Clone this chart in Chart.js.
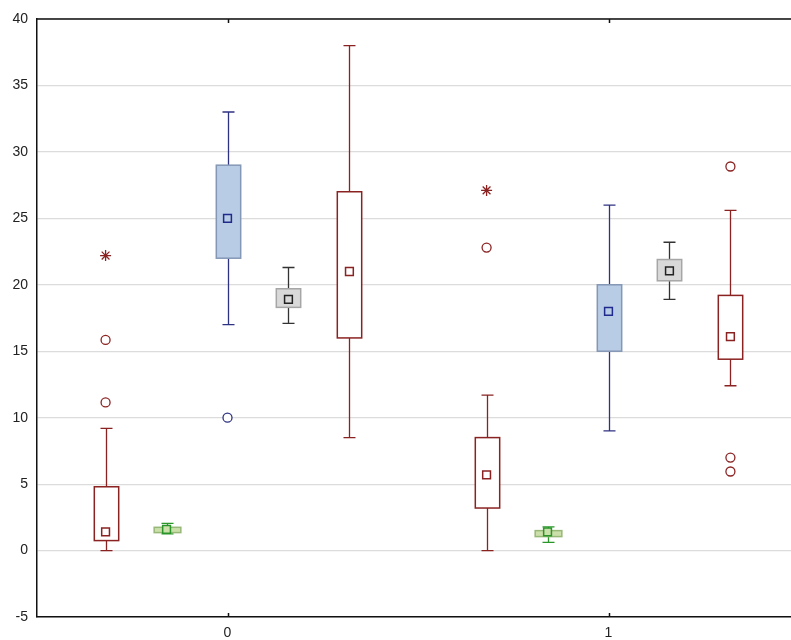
<!DOCTYPE html>
<html>
<head>
<meta charset="utf-8">
<script src="https://cdn.jsdelivr.net/npm/chart.js@4.4.0/dist/chart.umd.min.js"></script>
<style>
  body { margin: 0; background: #fff; overflow: hidden; }
  #wrap { width: 798px; height: 640px; }
</style>
</head>
<body>
<div id="wrap"><canvas id="chart"></canvas></div>
<script>
// x positions of the two groups and the offset of each box in a group
const groups = [0, 1];
const offsets = [-0.32, -0.16, 0, 0.16, 0.32];
const yTicks = [-5, 0, 5, 10, 15, 20, 25, 30, 35, 40];

// box statistics per series, one value per group
const aMin = [0, 0],     aQ1 = [0.75, 3.2],  aMed = [1.4, 5.7],   aQ3 = [4.8, 8.5],  aMax = [9.2, 11.7];
const bMin = [1.25, 0.62], bQ1 = [1.35, 1.05], bMed = [1.6, 1.4], bQ3 = [1.75, 1.5], bMax = [2.05, 1.78];
const cMin = [17, 9],    cQ1 = [22, 15],     cMed = [25, 18],     cQ3 = [29, 20],    cMax = [33, 26];
const dMin = [17.1, 18.9], dQ1 = [18.3, 20.3], dMed = [18.9, 21.05], dQ3 = [19.7, 21.9], dMax = [21.3, 23.2];
const eMin = [8.5, 12.4], eQ1 = [16, 14.4],  eMed = [21, 16.1],   eQ3 = [27, 19.2],  eMax = [38, 25.6];

// outliers (circles) and extremes (asterisks)
const aOut = [[15.85, 11.15], [22.8]];
const aExt = [[22.2], [27.1]];
const cOut = [[10], []];
const eOut = [[], [28.9, 7.0, 5.95]];

const DRED = '#8b2222';

const series = [
  { min: aMin, q1: aQ1, med: aMed, q3: aQ3, max: aMax, fill: '#ffffff', border: DRED, whisk: DRED, mFill: '#ffffff', mLine: DRED, w: 0.064 },
  { min: bMin, q1: bQ1, med: bMed, q3: bQ3, max: bMax, fill: '#cadfa9', border: '#97b877', whisk: '#2a962a', mFill: '#cadfa9', mLine: '#2a962a', w: 0.07 },
  { min: cMin, q1: cQ1, med: cMed, q3: cQ3, max: cMax, fill: '#b8cce5', border: '#8497b5', whisk: '#2e3282', mFill: '#b8cce5', mLine: '#1e2a8c', w: 0.064 },
  { min: dMin, q1: dQ1, med: dMed, q3: dQ3, max: dMax, fill: '#d9d9d9', border: '#a6a6a6', whisk: '#333333', mFill: '#d9d9d9', mLine: '#222222', w: 0.064 },
  { min: eMin, q1: eQ1, med: eMed, q3: eQ3, max: eMax, fill: '#ffffff', border: DRED, whisk: DRED, mFill: '#ffffff', mLine: DRED, w: 0.064 }
];

function pts(s, vals) {
  const out = [];
  groups.forEach((g, i) => vals[i].forEach(v => out.push({ x: g + offsets[s], y: v })));
  return out;
}

const datasets = series.map((s, i) => ({
  data: groups.map((g, j) => ({ x: g + offsets[i], y: s.med[j] })),
  pointStyle: 'rect', pointRadius: 5.5, backgroundColor: s.mFill, borderColor: s.mLine, borderWidth: 1.5
}));
datasets.push({ data: pts(0, aOut), pointStyle: 'circle', pointRadius: 4.5, backgroundColor: '#fff', borderColor: DRED, borderWidth: 1.3 });
datasets.push({ data: pts(2, cOut), pointStyle: 'circle', pointRadius: 4.5, backgroundColor: '#fff', borderColor: '#2e3282', borderWidth: 1.3 });
datasets.push({ data: pts(4, eOut), pointStyle: 'circle', pointRadius: 4.5, backgroundColor: '#fff', borderColor: DRED, borderWidth: 1.3 });
datasets.push({ data: pts(0, aExt), pointStyle: 'star', pointRadius: 5.5, borderColor: DRED, borderWidth: 1.3 });

const boxPlugin = {
  id: 'boxes',
  beforeDatasetsDraw(chart) {
    const ctx = chart.ctx, x = chart.scales.x, y = chart.scales.y;
    ctx.save();
    series.forEach((s, i) => {
      groups.forEach((g, j) => {
        const cx = Math.round(x.getPixelForValue(g + offsets[i])) + 0.5;
        const hw = (x.getPixelForValue(s.w) - x.getPixelForValue(0)) / 2;
        const cap = 6;
        const yMin = y.getPixelForValue(s.min[j]), yMax = y.getPixelForValue(s.max[j]);
        const yQ1 = y.getPixelForValue(s.q1[j]), yQ3 = y.getPixelForValue(s.q3[j]);
        ctx.strokeStyle = s.whisk;
        ctx.lineWidth = 1.3;
        ctx.beginPath();
        ctx.moveTo(cx, yMax); ctx.lineTo(cx, yQ3);
        ctx.moveTo(cx, yQ1); ctx.lineTo(cx, yMin);
        ctx.moveTo(cx - cap, yMax); ctx.lineTo(cx + cap, yMax);
        ctx.moveTo(cx - cap, yMin); ctx.lineTo(cx + cap, yMin);
        ctx.stroke();
        ctx.fillStyle = s.fill;
        ctx.fillRect(cx - hw, yQ3, hw * 2, yQ1 - yQ3);
        ctx.strokeStyle = s.border;
        ctx.lineWidth = 1.5;
        ctx.strokeRect(cx - hw, yQ3, hw * 2, yQ1 - yQ3);
      });
    });
    ctx.restore();
  },
  afterDraw(chart) {
    const ctx = chart.ctx, x = chart.scales.x, a = chart.chartArea;
    ctx.save();
    ctx.strokeStyle = '#111';
    ctx.lineWidth = 1.5;
    ctx.beginPath();
    ctx.moveTo(a.left, a.top); ctx.lineTo(a.right + 10, a.top);
    x.ticks.forEach(t => {
      const px = Math.round(x.getPixelForValue(t.value)) + 0.5;
      ctx.moveTo(px, a.bottom); ctx.lineTo(px, a.bottom - 4);
      ctx.moveTo(px, a.top); ctx.lineTo(px, a.top + 4);
    });
    ctx.stroke();
    ctx.restore();
  }
};

new Chart(document.getElementById('chart'), {
  type: 'scatter',
  data: { datasets: datasets },
  plugins: [boxPlugin],
  options: {
    responsive: true,
    maintainAspectRatio: false,
    animation: false,
    layout: { padding: { top: 19, right: 0, left: 0, bottom: 0 } },
    plugins: { legend: { display: false }, tooltip: { enabled: false } },
    scales: {
      x: {
        type: 'linear', min: -0.5, max: 1.479,
        afterBuildTicks: s => { s.ticks = groups.map(v => ({ value: v })); },
        afterFit: s => { s.height = 23; },
        grid: { display: false, drawTicks: false },
        border: { display: true, color: '#111', width: 1.5 },
        ticks: { color: '#222', padding: 8, font: { family: 'Liberation Sans, Arial, sans-serif', size: 14 } }
      },
      y: {
        min: -5, max: 40,
        afterBuildTicks: s => { s.ticks = yTicks.map(v => ({ value: v })); },
        afterFit: s => { s.width = 37; },
        grid: { color: '#dcdcdc', lineWidth: 1.2, drawTicks: false },
        border: { display: true, color: '#111', width: 1.5 },
        ticks: { color: '#222', padding: 9, font: { family: 'Liberation Sans, Arial, sans-serif', size: 14 } }
      }
    }
  }
});
</script>
</body>
</html>
